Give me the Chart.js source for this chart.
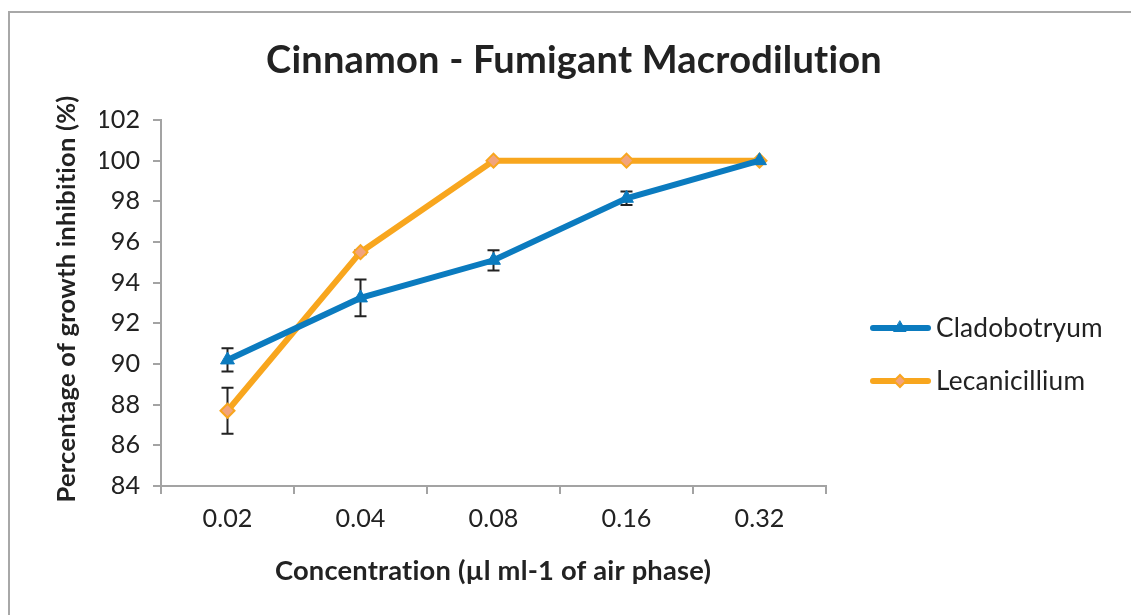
<!DOCTYPE html>
<html>
<head>
<meta charset="utf-8">
<script src="https://cdn.jsdelivr.net/npm/chart.js@4/dist/chart.umd.min.js"></script>
<style>
html,body{margin:0;padding:0;background:#fff;}
#wrap{width:1131px;height:615px;position:relative;}
</style>
</head>
<body>
<div id="wrap"><canvas id="c" width="1131" height="615"></canvas></div>
<script>
const categories = ['0.02', '0.04', '0.08', '0.16', '0.32'];
const cladoValues = [90.2, 93.25, 95.1, 98.15, 100];
const cladoErrors = [0.57, 0.9, 0.5, 0.33, 0];
const lecaValues = [87.7, 95.5, 100, 100, 100];
const lecaErrors = [1.13, 0.1, 0, 0, 0];
const yMin = 84, yMax = 102, yStep = 2;
const seriesNames = ['Cladobotryum', 'Lecanicillium'];
const titleText = 'Cinnamon - Fumigant Macrodilution';
const xTitleText = 'Concentration (µl ml-1 of air phase)';
const yTitleText = 'Percentage of growth inhibition (%)';

const FAM = 'Lato, "Open Sans", sans-serif';
const mctx = document.createElement('canvas').getContext('2d');
function noLig(ctx) { try { ctx.letterSpacing = '0.2px'; } catch (e) {} }
function fitSize(text, weight, width) {
  mctx.font = weight + ' 100px ' + FAM;
  noLig(mctx);
  return 100 * width / mctx.measureText(text).width;
}
const titleSize = fitSize(titleText, 'bold', 612);
const xTitleSize = fitSize(xTitleText, 'bold', 431);
const yTitleSize = fitSize(yTitleText, 'bold', 402);
const tickSize = fitSize('0.02', 'normal', 50);
const legendSize = fitSize('Cladobotryum', 'normal', 165);

const BLUE = '#0b7bbf';
const ORANGE = '#f8a61e';
const DIAMOND_FILL = '#f2a47c';
const AXIS = '#a3a3a3';
const TEXT = '#222222';

const errorBars = {
  id: 'errorBars',
  beforeDatasetsDraw(chart) {
    const ctx = chart.ctx;
    const ys = chart.scales.y;
    const errs = [cladoErrors, lecaErrors];
    ctx.save();
    ctx.strokeStyle = '#222';
    ctx.lineWidth = 2;
    chart.data.datasets.forEach((ds, di) => {
      const meta = chart.getDatasetMeta(di);
      meta.data.forEach((pt, i) => {
        const e = errs[di][i];
        if (!e) return;
        const v = ds.data[i];
        const x = pt.x;
        const y1 = ys.getPixelForValue(v + e);
        const y2 = ys.getPixelForValue(v - e);
        ctx.beginPath();
        ctx.moveTo(x, y1); ctx.lineTo(x, y2);
        ctx.moveTo(x - 6, y1); ctx.lineTo(x + 6, y1);
        ctx.moveTo(x - 6, y2); ctx.lineTo(x + 6, y2);
        ctx.stroke();
      });
    });
    ctx.restore();
  }
};

const decorations = {
  id: 'decorations',
  afterDraw(chart) {
    const ctx = chart.ctx;
    ctx.save();
    // outer frame
    ctx.strokeStyle = '#a8a8a8';
    ctx.lineWidth = 2;
    ctx.strokeRect(9, 12, 1300, 800);
    noLig(ctx);
    // title
    ctx.fillStyle = TEXT;
    ctx.textAlign = 'center';
    ctx.textBaseline = 'middle';
    ctx.font = 'bold ' + titleSize + 'px ' + FAM;
    ctx.fillText(titleText, 574, 61);
    // x title
    ctx.font = 'bold ' + xTitleSize + 'px ' + FAM;
    ctx.fillText(xTitleText, 493, 571);
    // y title
    ctx.save();
    ctx.translate(67, 299);
    ctx.rotate(-Math.PI / 2);
    ctx.font = 'bold ' + yTitleSize + 'px ' + FAM;
    ctx.fillText(yTitleText, 0, 0);
    ctx.restore();
    // legend
    const ly = [328, 381];
    chart.data.datasets.forEach((ds, i) => {
      const y = ly[i];
      ctx.strokeStyle = ds.borderColor;
      ctx.lineWidth = 6;
      ctx.lineCap = 'round';
      ctx.beginPath();
      ctx.moveTo(873, y); ctx.lineTo(928, y);
      ctx.stroke();
      ctx.fillStyle = ds.pointBackgroundColor;
      ctx.strokeStyle = ds.pointBorderColor;
      ctx.lineWidth = ds.pointBorderWidth;
      Chart.helpers.drawPoint(ctx, {pointStyle: ds.pointStyle, radius: ds.pointRadius - 1, rotation: 0, borderWidth: ds.pointBorderWidth}, 900, y);
      ctx.fillStyle = TEXT;
      ctx.textAlign = 'left';
      ctx.textBaseline = 'middle';
      ctx.font = legendSize + 'px ' + FAM;
      ctx.fillText(ds.label, 936, y + 1);
    });
    ctx.restore();
  }
};

new Chart(document.getElementById('c'), {
  type: 'line',
  data: {
    labels: categories,
    datasets: [
      {
        label: seriesNames[0],
        data: cladoValues,
        borderColor: BLUE,
        backgroundColor: BLUE,
        borderWidth: 6,
        pointStyle: 'triangle',
        pointRadius: 8,
        pointBackgroundColor: BLUE,
        pointBorderColor: BLUE,
        pointBorderWidth: 1,
        tension: 0
      },
      {
        label: seriesNames[1],
        data: lecaValues,
        borderColor: ORANGE,
        backgroundColor: ORANGE,
        borderWidth: 6,
        pointStyle: 'rectRot',
        pointRadius: 7,
        pointBackgroundColor: DIAMOND_FILL,
        pointBorderColor: ORANGE,
        pointBorderWidth: 2,
        tension: 0
      }
    ]
  },
  options: {
    responsive: false,
    animation: false,
    devicePixelRatio: 1,
    layout: { padding: { left: 100, right: 305, top: 120, bottom: 79 } },
    plugins: {
      legend: { display: false },
      title: { display: false },
      tooltip: { enabled: false }
    },
    scales: {
      x: {
        type: 'category',
        offset: true,
        afterFit(s) { s.height = 50; },
        grid: { display: true, offset: true, drawOnChartArea: false, drawTicks: true, tickLength: 8, color: AXIS, lineWidth: 2 },
        border: { display: true, color: AXIS, width: 2 },
        ticks: { color: TEXT, font: { family: FAM, size: tickSize }, padding: 10, maxRotation: 0 }
      },
      y: {
        min: yMin,
        max: yMax,
        afterFit(s) { s.width = 61; },
        grid: { display: true, drawOnChartArea: false, drawTicks: true, tickLength: 8, color: AXIS, lineWidth: 2 },
        border: { display: true, color: AXIS, width: 2 },
        ticks: { stepSize: yStep, color: TEXT, font: { family: FAM, size: tickSize }, padding: 13 }
      }
    }
  },
  plugins: [errorBars, decorations]
});
</script>
</body>
</html>
